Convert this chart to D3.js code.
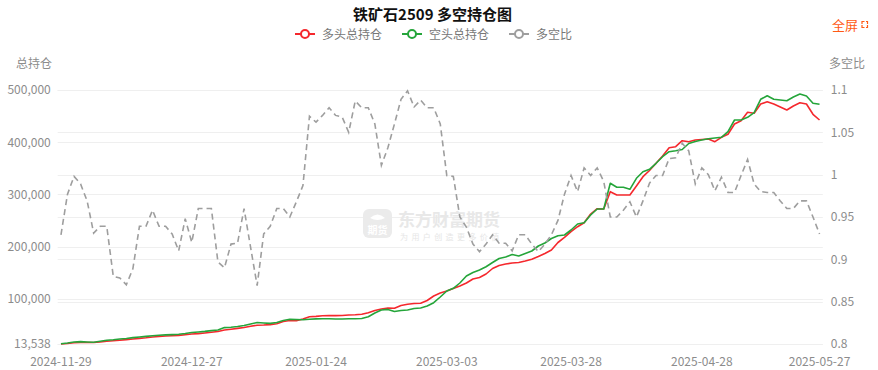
<!DOCTYPE html>
<html><head><meta charset="utf-8">
<script src="https://cdn.jsdelivr.net/npm/d3@7"></script>
<style>
body{margin:0;background:#fff;}
svg{display:block;font-family:"Noto Sans CJK SC","Noto Sans",sans-serif;}
</style>
</head><body>
<svg id="c" width="878" height="370"></svg>
<script>
const dates = [
"2024-11-29",
"2024-12-02","2024-12-03","2024-12-04","2024-12-05","2024-12-06","2024-12-09","2024-12-10","2024-12-11","2024-12-12","2024-12-13",
"2024-12-16","2024-12-17","2024-12-18","2024-12-19","2024-12-20","2024-12-23","2024-12-24","2024-12-25","2024-12-26","2024-12-27",
"2024-12-30","2024-12-31",
"2025-01-02","2025-01-03","2025-01-06","2025-01-07","2025-01-08","2025-01-09","2025-01-10","2025-01-13","2025-01-14","2025-01-15",
"2025-01-16","2025-01-17","2025-01-20","2025-01-21","2025-01-22","2025-01-23","2025-01-24","2025-01-27",
"2025-02-05","2025-02-06","2025-02-07","2025-02-10","2025-02-11","2025-02-12","2025-02-13","2025-02-14","2025-02-17","2025-02-18",
"2025-02-19","2025-02-20","2025-02-21","2025-02-24","2025-02-25","2025-02-26","2025-02-27","2025-02-28",
"2025-03-03","2025-03-04","2025-03-05","2025-03-06","2025-03-07","2025-03-10","2025-03-11","2025-03-12","2025-03-13","2025-03-14",
"2025-03-17","2025-03-18","2025-03-19","2025-03-20","2025-03-21","2025-03-24","2025-03-25","2025-03-26","2025-03-27","2025-03-28","2025-03-31",
"2025-04-01","2025-04-02","2025-04-03","2025-04-07","2025-04-08","2025-04-09","2025-04-10","2025-04-11","2025-04-14","2025-04-15",
"2025-04-16","2025-04-17","2025-04-18","2025-04-21","2025-04-22","2025-04-23","2025-04-24","2025-04-25","2025-04-28","2025-04-29","2025-04-30",
"2025-05-06","2025-05-07","2025-05-08","2025-05-09","2025-05-12","2025-05-13","2025-05-14","2025-05-15","2025-05-16","2025-05-19",
"2025-05-20","2025-05-21","2025-05-22","2025-05-23","2025-05-26","2025-05-27"
];

// 多头总持仓
const longTotal = [
13538,14500,15840,16410,16410,16410,17370,18710,19670,20820,
21970,23110,24260,25410,26940,27900,28860,29430,30010,31350,
32690,33460,34610,35950,37480,40350,41880,43420,45140,47440,
49540,49930,50690,52230,56630,58550,58160,61420,65630,66400,
67550,68120,67930,68120,69080,69460,70420,73480,77700,80570,
82490,81910,87270,89570,91100,91490,96850,105470,111210,115040,
119830,124620,130370,138030,140900,147600,158140,163880,166750,168670,
169630,172500,175760,181120,186860,193570,207930,217890,228620,238190,
245850,262510,272660,272090,305230,298900,298900,298900,316140,333950,
345830,359620,373600,389490,391410,402900,400980,404240,405200,406150,
400980,409410,415160,434880,441200,457290,455370,473190,477590,473190,
467440,461700,469360,475680,473190,453470,442540
];

// 空头总持仓
const shortTotal = [
14110,15450,17370,18130,17370,16790,18900,20620,21580,23110,
24070,25800,26940,28090,29240,30200,30970,31540,32310,33650,
35560,36520,37670,39200,40350,44950,45710,47050,48970,51840,
54720,53760,52990,54720,58550,61040,60460,59890,61040,61610,
61990,61800,61420,61420,61800,61990,62380,65630,72910,78660,
79800,75780,77700,78660,81530,82490,86320,92640,103550,115040,
120220,130370,143770,150480,155260,161580,169630,177290,180160,184950,
182080,186860,191650,201230,206970,215590,220950,222300,231870,243360,
245850,260600,272090,272090,321310,313650,313650,309820,330890,343530,
348120,359620,372260,381830,383750,386050,397540,401370,404240,406540,
408070,409410,420140,442540,442540,447710,456520,482190,489080,482190,
480850,479510,486590,492340,488510,474530,472610
];

// 多空比
const ratio = [
0.929,0.977,0.998,0.989,0.969,0.931,0.939,0.939,0.880,0.878,
0.870,0.889,0.939,0.939,0.958,0.939,0.939,0.930,0.910,0.948,
0.920,0.960,0.960,0.960,0.897,0.890,0.918,0.919,0.960,0.914,
0.869,0.930,0.939,0.960,0.960,0.950,0.968,0.987,1.069,1.062,
1.070,1.079,1.070,1.068,1.050,1.087,1.079,1.079,1.060,1.011,
1.032,1.060,1.089,1.099,1.080,1.088,1.079,1.079,1.060,0.999,
0.998,0.950,0.938,0.918,0.909,0.918,0.929,0.919,0.919,0.910,
0.929,0.929,0.918,0.909,0.918,0.929,0.946,0.977,0.999,0.980,
1.008,0.999,1.008,0.992,0.950,0.950,0.958,0.968,0.950,0.969,
0.990,0.999,0.999,1.019,1.020,1.037,1.028,0.989,1.008,1.000,
0.981,0.997,0.979,0.979,0.999,1.018,0.989,0.980,0.979,0.979,
0.969,0.960,0.960,0.969,0.969,0.950,0.930
];

const xTickLabels = ["2024-11-29","2024-12-27","2025-01-24","2025-03-03","2025-03-28","2025-04-28","2025-05-27"];
const leftTicks = [13538,100000,200000,300000,400000,500000];
const rightTicks = [0.8,0.85,0.9,0.95,1,1.05,1.1];
const seriesNames = ["多头总持仓","空头总持仓","多空比"];
const seriesColors = ["#f5282d","#25a53a","#9e9e9e"];
const titleText = "铁矿石2509 多空持仓图";

const svg = d3.select("#c");
const L = 57.7, R = 822.8, T = 90, B = 344;

const x = d3.scaleBand().domain(dates).range([L, R]);
const xc = d => x(d) + x.bandwidth()/2;
const yL = d3.scaleLinear().domain([13538, 500000]).range([B, T]);
const yR = d3.scaleLinear().domain([0.8, 1.1]).range([B, T]);

// grid lines
const grid = svg.append("g");
grid.selectAll("line.gl").data(leftTicks).join("line")
  .attr("x1", L).attr("x2", R).attr("y1", d => Math.round(yL(d))+0.5).attr("y2", d => Math.round(yL(d))+0.5)
  .attr("stroke", "#efefef").attr("stroke-width", 1);
grid.selectAll("line.gr").data(rightTicks).join("line")
  .attr("x1", L).attr("x2", R).attr("y1", d => Math.round(yR(d))+0.5).attr("y2", d => Math.round(yR(d))+0.5)
  .attr("stroke", "#efefef").attr("stroke-width", 1);

// watermark
const wm = svg.append("g");
wm.append("rect").attr("x", 363).attr("y", 209).attr("width", 29).attr("height", 29).attr("rx", 6).attr("fill", "#ebebeb");
wm.append("path").attr("d", "M370,218 q7.5,-7 15,0 q-7.5,4 -15,0z").attr("fill", "#fff");
wm.append("text").attr("x", 377.5).attr("y", 234).attr("text-anchor", "middle").attr("font-size", 10).attr("font-weight", "bold").attr("fill", "#fff").text("期货");
wm.append("text").attr("x", 398).attr("y", 226).attr("font-size", 17).attr("font-weight", "bold").attr("fill", "#e8e8e8").text("东方财富期货");
wm.append("text").attr("x", 400).attr("y", 240).attr("font-size", 8).attr("letter-spacing", 3.4).attr("fill", "#e6e6e6").text("为用户创造更多价值");

// axes (labels only)
const axL = svg.append("g").attr("transform", `translate(${L - 7},0)`)
  .call(d3.axisLeft(yL).tickValues(leftTicks).tickFormat(d3.format(",")).tickSize(0).tickPadding(0));
const axR = svg.append("g").attr("transform", `translate(${R + 8},0)`)
  .call(d3.axisRight(yR).tickValues(rightTicks).tickFormat(d => String(d)).tickSize(0).tickPadding(0));
const axB = svg.append("g").attr("transform", `translate(0,${B + 12})`)
  .call(d3.axisBottom(x).tickValues(xTickLabels).tickSize(0).tickPadding(0));
[axL, axR, axB].forEach(a => {
  a.select(".domain").remove();
  a.selectAll("text").attr("fill", "#8c8c8c").attr("font-size", 12)
    .attr("font-family", '"Noto Sans CJK SC","Noto Sans",sans-serif');
});
axB.selectAll("text").attr("dy", "0.85em");

// axis names
svg.append("text").attr("x", 34).attr("y", 68).attr("text-anchor", "middle").attr("font-size", 12).attr("fill", "#8c8c8c").text("总持仓");
svg.append("text").attr("x", 847).attr("y", 68).attr("text-anchor", "middle").attr("font-size", 12).attr("fill", "#8c8c8c").text("多空比");

// lines
const lineL = d3.line().x((d, i) => xc(dates[i])).y(d => yL(d));
const lineR = d3.line().x((d, i) => xc(dates[i])).y(d => yR(d));
svg.append("path").datum(longTotal).attr("d", lineL).attr("fill", "none")
  .attr("stroke", seriesColors[0]).attr("stroke-width", 1.6).attr("stroke-linejoin", "round");
svg.append("path").datum(shortTotal).attr("d", lineL).attr("fill", "none")
  .attr("stroke", seriesColors[1]).attr("stroke-width", 1.6).attr("stroke-linejoin", "round");
svg.append("path").datum(ratio).attr("d", lineR).attr("fill", "none")
  .attr("stroke", seriesColors[2]).attr("stroke-width", 1.6).attr("stroke-dasharray", "6,4");

// title
svg.append("text").attr("x", 432.5).attr("y", 20).attr("text-anchor", "middle")
  .attr("font-size", 15).attr("font-weight", "bold").attr("fill", "#111").text(titleText);

// legend
const legX = [295, 402, 509];
const leg = svg.append("g");
seriesNames.forEach((n, i) => {
  const g = leg.append("g").attr("transform", `translate(${legX[i]},34)`);
  g.append("line").attr("x1", 0).attr("x2", 20).attr("y1", 0).attr("y2", 0).attr("stroke", seriesColors[i]).attr("stroke-width", 2);
  g.append("circle").attr("cx", 10).attr("cy", 0).attr("r", 4).attr("fill", "#fff").attr("stroke", seriesColors[i]).attr("stroke-width", 2);
  g.append("text").attr("x", 27).attr("y", 4.5).attr("font-size", 12).attr("fill", "#777").text(n);
});

// fullscreen button
svg.append("text").attr("x", 832).attr("y", 30).attr("font-size", 13).attr("fill", "#ff5a14").text("全屏");
const fs = svg.append("g").attr("stroke", "#ff5a14").attr("stroke-width", 1.2).attr("fill", "none");
fs.append("path").attr("d", "M862,24 v-2.5 h2.5 M864.5,27.5 h-2.5 v-2.5 M866,21.5 h1.5 v2.5 M867.5,25 v2.5 h-1.5");
</script>
</body></html>
